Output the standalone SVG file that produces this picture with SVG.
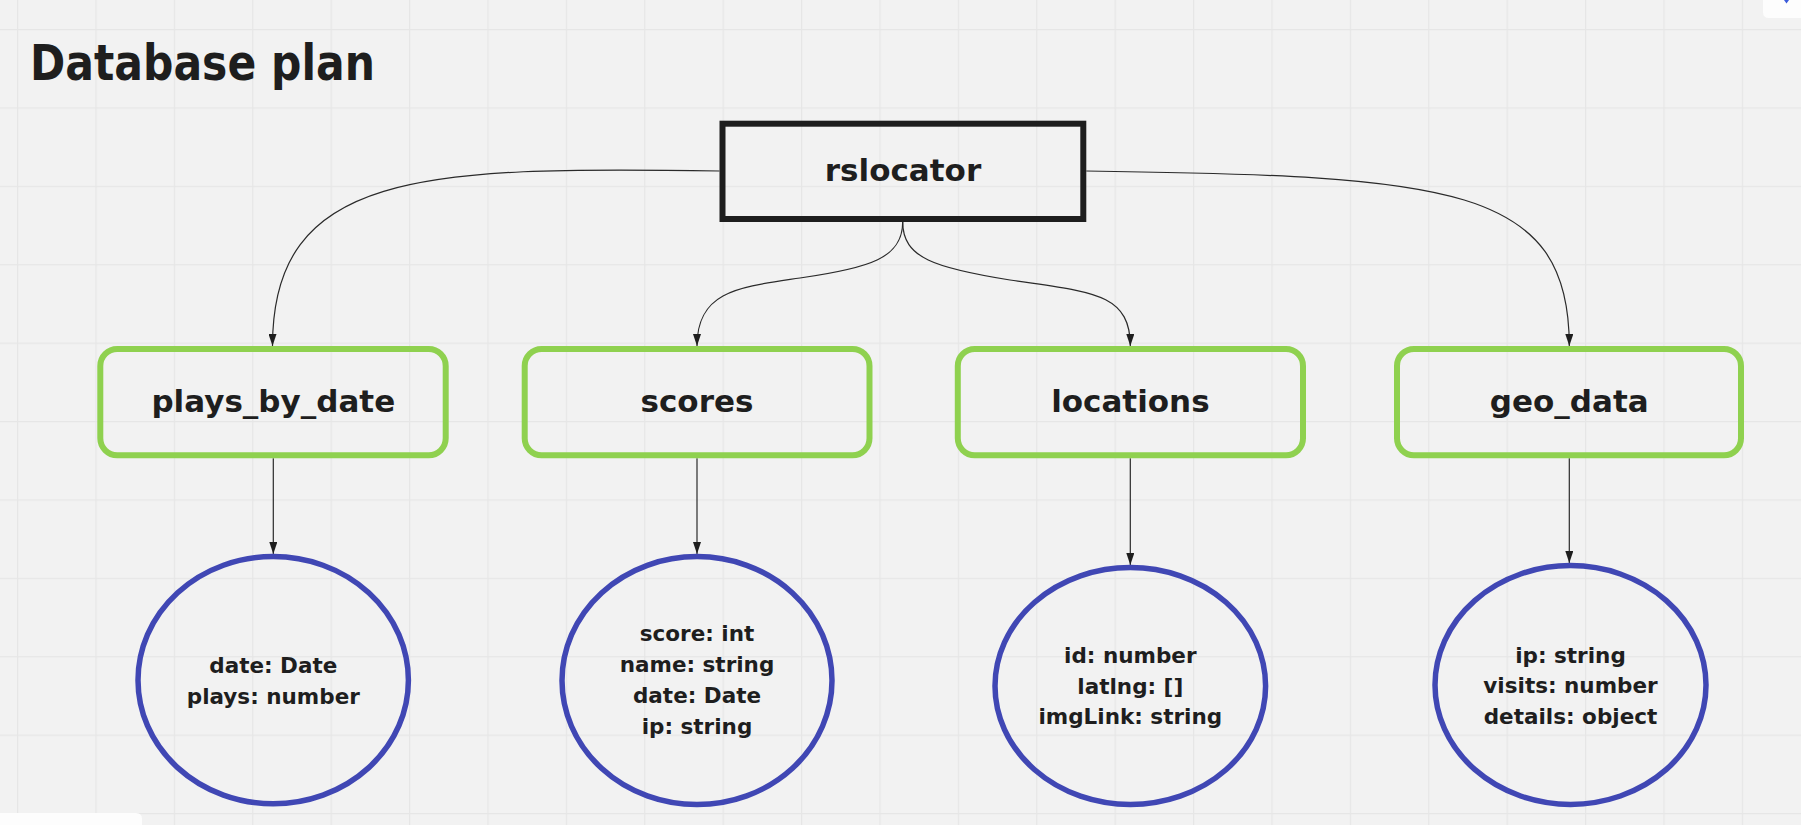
<svg xmlns="http://www.w3.org/2000/svg" width="1801" height="825" viewBox="0 0 1801 825">
<defs>
<pattern id="grid" x="17" y="29" width="78.4" height="78.4" patternUnits="userSpaceOnUse">
<path d="M0.5 0 V78.4 M0 0.5 H78.4" stroke="#e6e6e6" stroke-width="1.5" fill="none"/>
</pattern>
<marker id="arr" viewBox="0 0 12 8" refX="12" refY="4" markerWidth="12" markerHeight="8" markerUnits="userSpaceOnUse" orient="auto">
<path d="M0 0 L12 4 L0 8 Z" fill="#1e1e1e"/>
</marker>
<style>
.t{font-family:"DejaVu Sans","Liberation Sans",sans-serif;font-weight:bold;fill:#1e1e1e;text-anchor:middle}
.lbl{font-size:31px}
.fld{font-size:21.5px}
.box{fill:none;stroke:#8fd14f;stroke-width:6}
.ell{fill:none;stroke:#4047b4;stroke-width:5.5}
.con{fill:none;stroke:#2a2a2a;stroke-width:1.2;marker-end:url(#arr)}
</style>
</defs>
<rect width="1801" height="825" fill="#f2f2f2"/>
<rect width="1801" height="825" fill="url(#grid)"/>
<path d="M1763 0 H1801 V18 H1769 Q1763 18 1763 12 Z" fill="#fdfdfd"/>
<path d="M1784 0 L1789 0 L1786.5 3.5 Z" fill="#3b5bdb"/>
<path d="M0 813 H136 Q142 813 142 819 V825 H0 Z" fill="#fdfdfd"/>

<text class="t" x="30" y="80" font-size="49" style="text-anchor:start" textLength="345" lengthAdjust="spacingAndGlyphs">Database plan</text>

<g id="connectors">
<path class="con" d="M719.5 171 C420 166 272.5 172 272.5 346"/>
<path class="con" d="M1086.3 171 C1450 176 1569.3 185 1569.3 346"/>
<path class="con" d="M902.7 222 C902.7 258 870 268 800 278 C740 287 697 290 697 346"/>
<path class="con" d="M902.7 222 C902.7 258 935 268 1010 280 C1090 292 1130.3 292 1130.3 346"/>
<path class="con" d="M273.3 458.3 V554"/>
<path class="con" d="M697 458.3 V554"/>
<path class="con" d="M1130.3 458.3 V565"/>
<path class="con" d="M1569.3 458.3 V563"/>
</g>

<g id="rslocator">
<rect x="722.5" y="123.7" width="360.8" height="95.3" fill="none" stroke="#1e1e1e" stroke-width="6"/>
<text class="t lbl" x="903" y="181">rslocator</text>
</g>

<g id="plays_by_date">
<rect class="box" x="100.3" y="349" width="345.4" height="106.3" rx="17"/>
<text class="t lbl" x="273.3" y="412">plays_by_date</text>
</g>
<g id="scores">
<rect class="box" x="524.7" y="349" width="344.8" height="106.3" rx="17"/>
<text class="t lbl" x="697" y="412">scores</text>
</g>
<g id="locations">
<rect class="box" x="957.8" y="349" width="345.2" height="106.3" rx="17"/>
<text class="t lbl" x="1130.4" y="412">locations</text>
</g>
<g id="geo_data">
<rect class="box" x="1397" y="349" width="344" height="106.3" rx="17"/>
<text class="t lbl" x="1569.3" y="412">geo_data</text>
</g>

<g id="plays_fields">
<ellipse class="ell" cx="273.2" cy="680.2" rx="135.2" ry="123.6"/>
<text class="t fld" x="273.3" y="672.7">date: Date</text>
<text class="t fld" x="273.3" y="704">plays: number</text>
</g>
<g id="scores_fields">
<ellipse class="ell" cx="697" cy="680.6" rx="135" ry="124"/>
<text class="t fld" x="697" y="641">score: int</text>
<text class="t fld" x="697" y="671.7">name: string</text>
<text class="t fld" x="697" y="703.3">date: Date</text>
<text class="t fld" x="697" y="734">ip: string</text>
</g>
<g id="locations_fields">
<ellipse class="ell" cx="1130.3" cy="686" rx="135.3" ry="118.4"/>
<text class="t fld" x="1130.3" y="662.7">id: number</text>
<text class="t fld" x="1130.3" y="694">latlng: []</text>
<text class="t fld" x="1130.3" y="724.3">imgLink: string</text>
</g>
<g id="geo_fields">
<ellipse class="ell" cx="1570.5" cy="685" rx="135.5" ry="119.4"/>
<text class="t fld" x="1570.5" y="662.7">ip: string</text>
<text class="t fld" x="1570.5" y="693.3">visits: number</text>
<text class="t fld" x="1570.5" y="724">details: object</text>
</g>
</svg>
